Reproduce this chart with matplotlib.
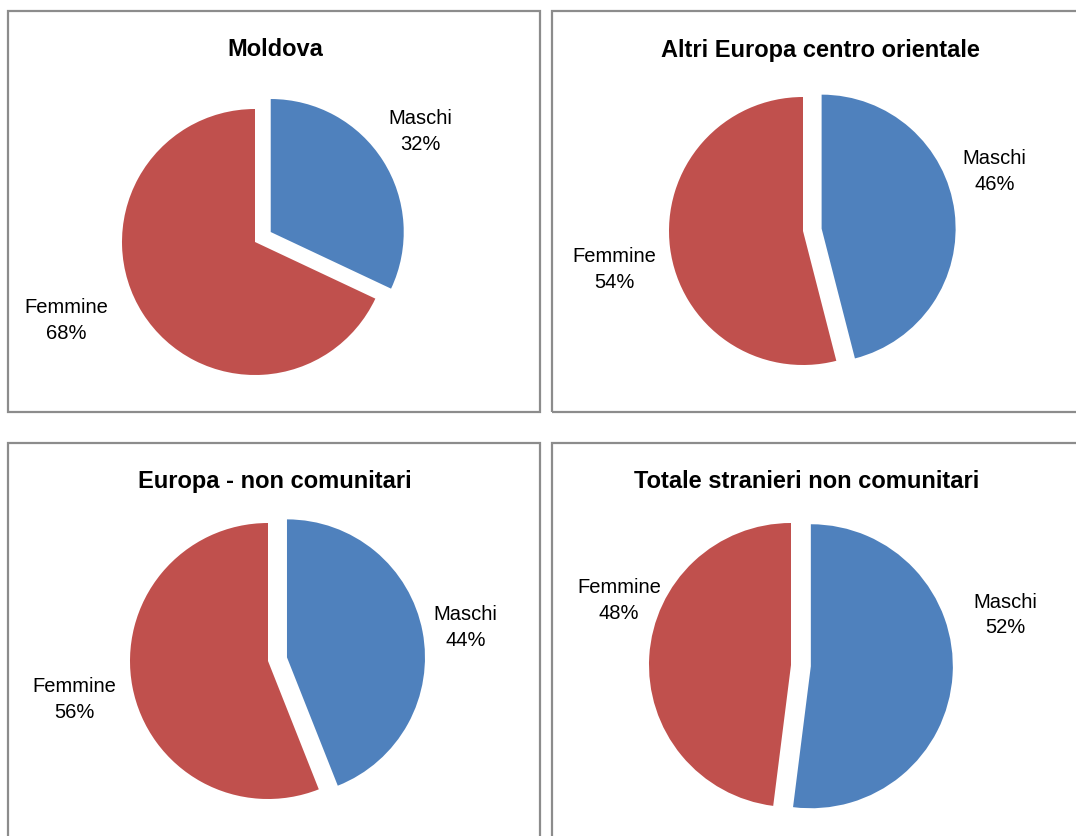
import matplotlib
matplotlib.use("Agg")
import matplotlib.pyplot as plt
from matplotlib.patches import Rectangle
from matplotlib import font_manager

titles = ["Moldova", "Altri Europa centro orientale",
          "Europa - non comunitari", "Totale stranieri non comunitari"]
categories = ["Maschi", "Femmine"]
maschi = [32, 46, 44, 52]
femmine = [68, 54, 56, 48]

colors = ["#4F81BD", "#C0504D"]

W, H = 1076, 837
fig = plt.figure(figsize=(W / 100, H / 100), dpi=100)

names = {f.name for f in font_manager.fontManager.ttflist}
fam = "Liberation Sans Narrow" if "Liberation Sans Narrow" in names else "Liberation Sans"
narrow = fam == "Liberation Sans Narrow"
lab_fs = 16 if narrow else 14.5
tit_fs = 20 if narrow else 17

# panel frames (px): x0, y0(top), x1, y1(bottom)
frames = [(8, 12, 540, 413), (552, 12, 1080, 413),
          (8, 444, 540, 845), (552, 444, 1080, 845)]
# pie centers (px) and radius (px)
centers = [(255, 243), (803, 232), (268, 662), (791, 666)]
radii = [133, 134, 138, 142]
title_pos = [(275, 50), (820, 50), (275, 482), (807, 482)]
# label positions relative to centre in radius units: (maschi), (femmine)
label_off = [((1.24, 0.84), (-1.42, -0.58)),
             ((1.43, 0.45), (-1.41, -0.28)),
             ((1.43, 0.25), (-1.40, -0.27)),
             ((1.51, 0.36), (-1.21, 0.46))]

for (x0, y0, x1, y1) in frames:
    r = Rectangle((x0 / W, 1 - y1 / H), (x1 - x0) / W, (y1 - y0) / H,
                  transform=fig.transFigure, fill=False,
                  edgecolor="#8C8C8C", linewidth=1.6, clip_on=False)
    fig.add_artist(r)

for i in range(4):
    cx, cy = centers[i]
    R = radii[i]
    half = 1.6 * R
    ax = fig.add_axes([(cx - half) / W, 1 - (cy + half) / H, 2 * half / W, 2 * half / H])
    vals = [maschi[i], femmine[i]]
    ax.pie(vals, colors=colors, startangle=90, counterclock=False,
           explode=[0.14, 0], radius=1.0,
           wedgeprops=dict(linewidth=0))
    ax.set_xlim(-1.6, 1.6)
    ax.set_ylim(-1.6, 1.6)
    ax.set_aspect("equal")
    ax.axis("off")
    for j, cat in enumerate(categories):
        dx, dy = label_off[i][j]
        ax.text(dx, dy, f"{cat}\n{vals[j]}%", ha="center", va="center",
                fontsize=lab_fs, family=fam, linespacing=1.45, color="black")
    tx, ty = title_pos[i]
    fig.text(tx / W, 1 - ty / H, titles[i], ha="center", va="center",
             fontsize=tit_fs, fontweight="bold", family=fam)

fig.savefig("out.png", dpi=100, facecolor="white")
